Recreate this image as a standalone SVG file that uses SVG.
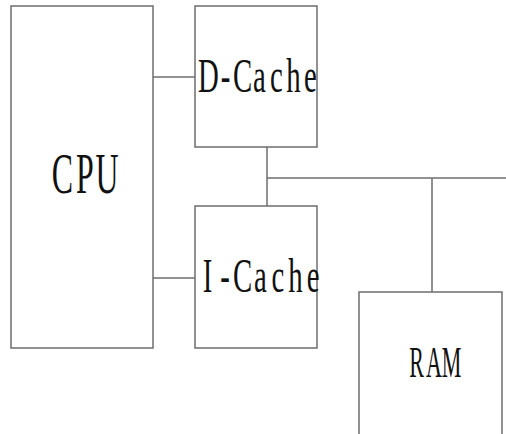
<svg xmlns="http://www.w3.org/2000/svg" width="506" height="434" viewBox="0 0 506 434">
<style>
.box{fill:#fff;stroke:#6e6e6e;stroke-width:1.5}
.wire{fill:none;stroke:#6e6e6e;stroke-width:1.5}
.lbl{font-family:"Liberation Serif","DejaVu Serif",serif;fill:#111;text-anchor:middle}
</style>
<rect width="506" height="434" fill="#fff"/>
<g id="connectors">
<line class="wire" x1="153" y1="77" x2="195" y2="77"/>
<line class="wire" x1="153" y1="278" x2="195" y2="278"/>
<line class="wire" x1="267" y1="147" x2="267" y2="206"/>
<line class="wire" x1="267" y1="178" x2="506" y2="178"/>
<line class="wire" x1="432" y1="178" x2="432" y2="292"/>
</g>
<g id="cpu">
<rect class="box" x="11" y="6" width="142" height="342"/>
<text class="lbl" transform="translate(0,193) scale(0.55,1)" x="113.6 154.5 194.5" y="0" font-size="58">CPU</text>
</g>
<g id="dcache">
<rect class="box" x="195" y="6" width="122" height="141"/>
<text class="lbl" transform="translate(0,92) scale(0.6,1)" x="347.5 375.8 404.2 432.5 460.8 489.2 517.5" y="0" font-size="48">D-Cache</text>
</g>
<g id="icache">
<rect class="box" x="195" y="206" width="122" height="142"/>
<text class="lbl" transform="translate(0,292) scale(0.6,1)" x="345.8 375.2 404.5 433.8 463.2 492.5 521.8" y="0" font-size="48">I-Cache</text>
</g>
<g id="ram">
<rect class="box" x="359" y="292" width="143" height="150"/>
<text class="lbl" transform="translate(0,377) scale(0.5,1)" x="833 868 903" y="0" font-size="44">RAM</text>
</g>
</svg>
